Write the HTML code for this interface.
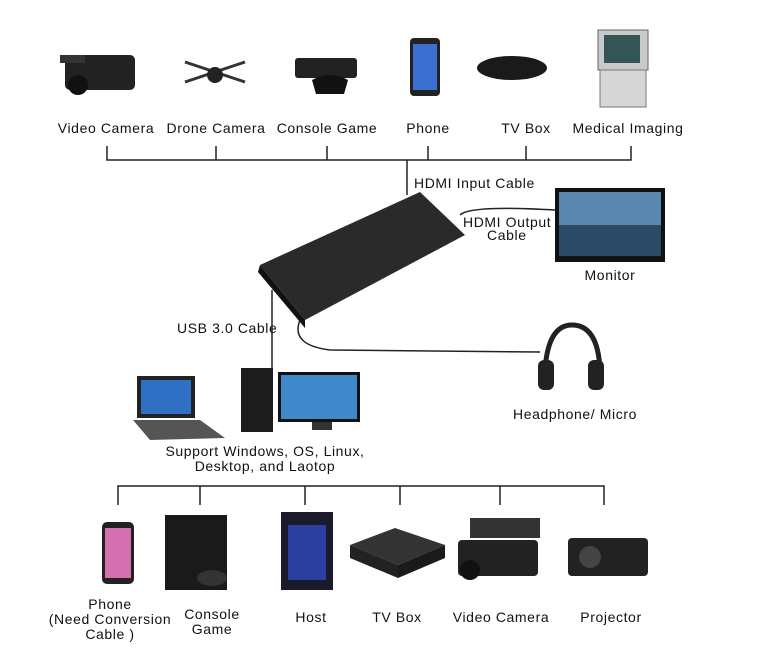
<!DOCTYPE html>
<html><head><meta charset="utf-8"><style>
body{margin:0;background:#fff;}
svg text{font-family:"Liberation Sans",sans-serif;font-size:14px;letter-spacing:0.6px;fill:#111;}
</style></head><body>
<svg width="767" height="662" viewBox="0 0 767 662" xmlns="http://www.w3.org/2000/svg">
<g>
<rect x="65" y="55" width="70" height="35" rx="5" fill="#222"/><rect x="60" y="55" width="25" height="8" fill="#333"/><circle cx="78" cy="85" r="10" fill="#111"/>
<g stroke="#333" stroke-width="3"><line x1="185" y1="62" x2="245" y2="82"/><line x1="185" y1="82" x2="245" y2="62"/></g><circle cx="215" cy="75" r="8" fill="#222"/>
<rect x="295" y="58" width="62" height="20" rx="3" fill="#222"/><path d="M312 80 q18 -10 36 0 l-4 14 h-28z" fill="#111"/>
<rect x="410" y="38" width="30" height="58" rx="4" fill="#222"/><rect x="413" y="44" width="24" height="46" fill="#3b6fd1"/>
<ellipse cx="512" cy="68" rx="35" ry="12" fill="#1a1a1a"/>
<rect x="598" y="30" width="50" height="40" fill="#c9c9c9" stroke="#666"/><rect x="604" y="35" width="36" height="28" fill="#355"/><rect x="600" y="70" width="46" height="37" fill="#d6d6d6" stroke="#777"/>
</g>
<g text-anchor="middle">
<text x="106" y="133">Video Camera</text><text x="216" y="133">Drone Camera</text><text x="327" y="133">Console Game</text>
<text x="428" y="133">Phone</text><text x="526" y="133">TV Box</text><text x="628" y="133">Medical Imaging</text>
</g>
<g stroke="#222" stroke-width="1.5" fill="none">
<path d="M107 146V160H631V146M216 146V160M327 146V160M428 146V160M526 146V160M407 160V195"/>
<path d="M460 215 Q470 205 555 210"/>
<path d="M300 320 Q290 345 330 350 L540 352"/>
<path d="M272 290V372"/>
<path d="M118 505V486H604V505M200 486V505M305 486V505M400 486V505M500 486V505"/>
</g>
<text x="414" y="188">HDMI Input Cable</text>
<text x="463" y="227">HDMI Output</text><text x="487" y="240">Cable</text>
<polygon points="260,265 420,192 465,235 305,320" fill="#2a2a2a"/>
<polygon points="260,265 305,320 305,328 258,272" fill="#111"/>
<rect x="555" y="188" width="110" height="74" fill="#111"/><rect x="559" y="192" width="102" height="64" fill="#5a87b0"/><rect x="559" y="225" width="102" height="31" fill="#2c4a66"/>
<text x="610" y="280" text-anchor="middle">Monitor</text>
<path d="M545 370 Q548 325 572 325 Q598 325 600 370" stroke="#222" stroke-width="5" fill="none"/>
<rect x="538" y="360" width="16" height="30" rx="6" fill="#222"/><rect x="588" y="360" width="16" height="30" rx="6" fill="#222"/>
<text x="575" y="419" text-anchor="middle">Headphone/ Micro</text>
<text x="177" y="333">USB 3.0 Cable</text>
<rect x="137" y="376" width="58" height="42" fill="#222"/><rect x="141" y="380" width="50" height="34" fill="#2f6fc4"/><polygon points="133,420 200,420 225,438 150,440" fill="#555"/>
<rect x="241" y="368" width="32" height="64" fill="#1c1c1c"/>
<rect x="278" y="372" width="82" height="50" fill="#111"/><rect x="281" y="375" width="76" height="44" fill="#3f88c9"/><rect x="312" y="422" width="20" height="8" fill="#333"/>
<text x="265" y="456" text-anchor="middle">Support Windows, OS, Linux,</text>
<text x="265" y="471" text-anchor="middle">Desktop, and Laotop</text>
<rect x="102" y="522" width="32" height="62" rx="5" fill="#222"/><rect x="105" y="528" width="26" height="50" fill="#d46fb0"/>
<rect x="165" y="515" width="62" height="75" fill="#1a1a1a"/><ellipse cx="212" cy="578" rx="15" ry="8" fill="#333"/>
<rect x="281" y="512" width="52" height="78" fill="#1a1a2a"/><rect x="288" y="525" width="38" height="55" fill="#2b3fa0"/>
<polygon points="350,545 395,528 445,545 398,565" fill="#333"/><polygon points="350,545 398,565 398,578 350,558" fill="#222"/><polygon points="398,565 445,545 445,558 398,578" fill="#1a1a1a"/>
<rect x="458" y="540" width="80" height="36" rx="4" fill="#222"/><rect x="470" y="518" width="70" height="20" fill="#333"/><circle cx="470" cy="570" r="10" fill="#111"/>
<rect x="568" y="538" width="80" height="38" rx="4" fill="#222"/><circle cx="590" cy="557" r="11" fill="#444"/>
<g text-anchor="middle">
<text x="110" y="609">Phone</text><text x="110" y="624">(Need Conversion</text><text x="110" y="639">Cable )</text>
<text x="212" y="619">Console</text><text x="212" y="634">Game</text>
<text x="311" y="622">Host</text><text x="397" y="622">TV Box</text><text x="501" y="622">Video Camera</text><text x="611" y="622">Projector</text>
</g>
</svg>
</body></html>
